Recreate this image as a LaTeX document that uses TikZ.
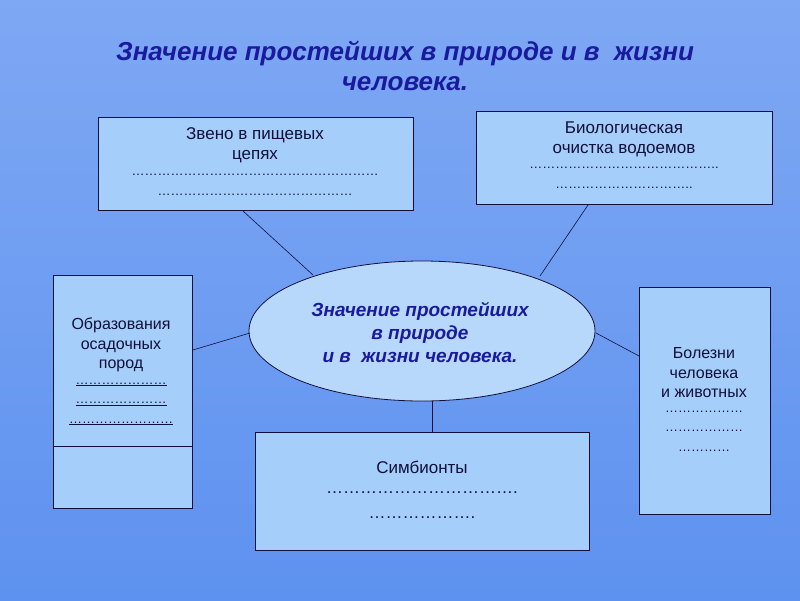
\documentclass[tikz,border=0pt]{standalone}
\usepackage{fontspec}
\setmainfont{Liberation Sans}
\usetikzlibrary{shapes.geometric}
\definecolor{bg}{HTML}{5E92F0}
\definecolor{bx}{HTML}{A6CEFA}
\definecolor{tt}{HTML}{1A1A9E}
\definecolor{ink}{HTML}{10103A}
\begin{document}
\begin{tikzpicture}[x=1pt,y=-1pt,
 card/.style={draw=ink,fill=bx,line width=0.8pt},
 lbl/.style={text=ink,font=\fontsize{17}{20}\selectfont,align=center},
 link/.style={draw=ink,line width=0.6pt}]
\fill[top color=bg!80!white,bottom color=bg] (0,0) rectangle (800,600);
\useasboundingbox (0,0) rectangle (800,600);
\node[text=tt,font=\fontsize{26}{30}\selectfont\bfseries\itshape,align=center] (title) at (405,66) {Значение простейших в природе и в \ жизни\\человека.};
\node[card,minimum width=315,minimum height=93,anchor=north west] (a) at (98,117) {};
\node[lbl] (at) at (255,145) {Звено в пищевых\\цепях};
\node[lbl,font=\fontsize{13}{20}\selectfont] (ad) at (255,185) {…………………………………………………\\………………………………………};
\node[card,minimum width=296,minimum height=93,anchor=north west] (b) at (476,111) {};
\node[lbl] (bt) at (624,139) {Биологическая\\очистка водоемов};
\node[lbl,font=\fontsize{13}{20}\selectfont] (bd) at (624,178) {……………………………………..\\…………………………..};
\node[card,minimum width=139,minimum height=233,anchor=north west] (c) at (53,275) {};
\draw[ink,line width=0.8pt] (53,446) -- (192,446);
\node[lbl,font=\fontsize{16}{19.5}\selectfont] (ct) at (121,345) {Образования\\осадочных\\пород};
\node[lbl,font=\fontsize{13}{19.5}\selectfont] (cd) at (121,404) {\underline{…………………}\\\underline{…………………}\\\underline{……………………}};
\node[card,minimum width=131,minimum height=227,anchor=north west] (d) at (639,287) {};
\node[lbl,font=\fontsize{16}{19.5}\selectfont] (dt) at (704,373) {Болезни\\человека\\и животных};
\node[lbl,font=\fontsize{13}{19.5}\selectfont] (dd) at (704,431) {………………\\………………\\…………};
\node[card,minimum width=334,minimum height=118,anchor=north west] (e) at (255,432) {};
\node[lbl] (et) at (422,467) {Симбионты};
\node[lbl,font=\fontsize{17}{25}\selectfont] (ed) at (422,505) {…………………………….\\……………….};
\node[draw=ink,fill=bx!80!white,ellipse,minimum width=346,minimum height=140,inner sep=0,line width=0.8pt] (m) at (422,331) {};
\node[text=tt,font=\fontsize{19}{23}\selectfont\bfseries\itshape,align=center] (mt) at (420,332) {Значение простейших\\в природе\\и в \ жизни человека.};
\coordinate (pa) at (313,275);
\coordinate (pb) at (540,276);
\coordinate (pc) at (250,333);
\coordinate (pd) at (596,333);
\draw[link] (243,211) -- (pa);
\draw[link] (588,205) -- (pb);
\draw[link] (c.east |- 0,350) -- (pc);
\draw[link] (d.west |- 0,356) -- (pd);
\draw[link] (e.north -| 432,0) -- (m.south -| 432,0);
\end{tikzpicture}
\end{document}
